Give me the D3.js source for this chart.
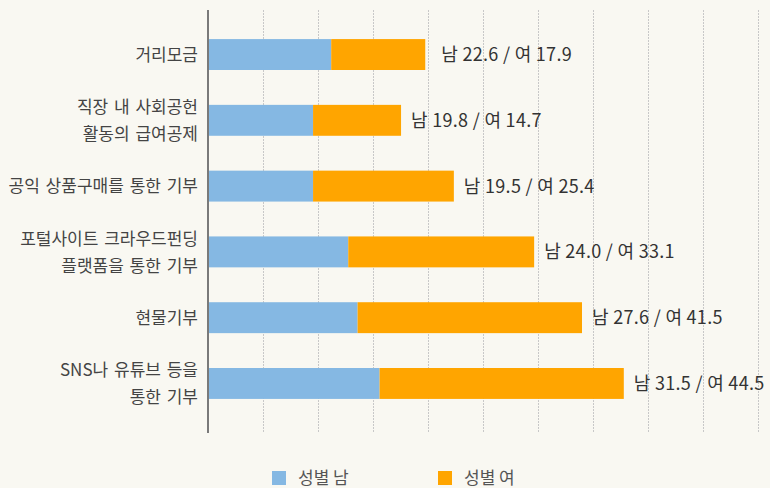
<!DOCTYPE html>
<html>
<head>
<meta charset="utf-8">
<script src="https://cdn.jsdelivr.net/npm/d3@7"></script>
<style>
  html, body { margin: 0; padding: 0; background: #f9f8f2; }
  svg { display: block; font-family: "Noto Sans CJK KR", "Noto Sans", sans-serif; }
</style>
</head>
<body>
<svg id="chart" width="770" height="488"></svg>
<script>
// categories (top to bottom), lines split for wrapping
const CATEGORIES = [
  ["거리모금"],
  ["직장 내 사회공헌", "활동의 급여공제"],
  ["공익 상품구매를 통한 기부"],
  ["포털사이트 크라우드펀딩", "플랫폼을 통한 기부"],
  ["현물기부"],
  ["SNS나 유튜브 등을", "통한 기부"]
];
// bar lengths as drawn
const MALE_BAR   = [22.4, 19.1, 19.1, 25.5, 27.2, 31.2];
const FEMALE_BAR = [17.1, 16.0, 25.6, 33.8, 40.8, 44.4];
// value labels as printed
const MALE_LABEL   = ["22.6", "19.8", "19.5", "24.0", "27.6", "31.5"];
const FEMALE_LABEL = ["17.9", "14.7", "25.4", "33.1", "41.5", "44.5"];
const SERIES = ["성별 남", "성별 여"];
const COLORS = ["#85b8e3", "#ffa500"];
const X_TICKS = [10, 20, 30, 40, 50, 60, 70, 80, 90, 100];

const svg = d3.select("#chart");
const PLOT = { left: 208, right: 758, top: 10, bottom: 433 };

const x = d3.scaleLinear().domain([0, 100]).range([PLOT.left, PLOT.right]);
const y = d3.scaleBand()
  .domain(d3.range(CATEGORIES.length))
  .range([PLOT.top - 2.5, PLOT.bottom - 2.5])
  .paddingInner(0.53)
  .paddingOuter(0.48);

//Dotted grid lines
svg.append("g")
  .selectAll("line")
  .data(X_TICKS)
  .join("line")
  .attr("x1", d => Math.round(x(d)) + 0.5)
  .attr("x2", d => Math.round(x(d)) + 0.5)
  .attr("y1", PLOT.top)
  .attr("y2", PLOT.bottom)
  .attr("stroke", "#c8c8c8")
  .attr("stroke-width", 1)
  .attr("stroke-dasharray", "2,1");

const rows = CATEGORIES.map((c, i) => ({
  i, lines: c, m: MALE_BAR[i], f: FEMALE_BAR[i],
  label: `남 ${MALE_LABEL[i]} / 여 ${FEMALE_LABEL[i]}`
}));

//Stacked bars
const bars = svg.append("g");
bars.selectAll(".male")
  .data(rows)
  .join("rect")
  .attr("class", "male")
  .attr("x", x(0))
  .attr("y", d => y(d.i))
  .attr("width", d => x(d.m) - x(0))
  .attr("height", y.bandwidth())
  .attr("fill", COLORS[0]);
bars.selectAll(".female")
  .data(rows)
  .join("rect")
  .attr("class", "female")
  .attr("x", d => x(d.m))
  .attr("y", d => y(d.i))
  .attr("width", d => x(d.m + d.f) - x(d.m))
  .attr("height", y.bandwidth())
  .attr("fill", COLORS[1]);

//Value labels
svg.append("g")
  .selectAll("text")
  .data(rows)
  .join("text")
  .attr("x", d => x(d.m + d.f) + (d.i === 0 ? 16 : 10))
  .attr("y", d => y(d.i) + y.bandwidth() / 2)
  .attr("dy", "0.36em")
  .attr("font-size", 18)
  .attr("letter-spacing", "0.3px")
  .attr("fill", "#333")
  .text(d => d.label);

//Category labels
const cat = svg.append("g")
  .selectAll("text")
  .data(rows)
  .join("text")
  .attr("x", 198)
  .attr("y", d => y(d.i) + y.bandwidth() / 2)
  .attr("text-anchor", "end")
  .attr("font-size", 17)
  .attr("word-spacing", "2px")
  .attr("fill", "#444");
cat.selectAll("tspan")
  .data(d => d.lines.map((t, k) => ({ t, k, n: d.lines.length })))
  .join("tspan")
  .attr("x", 198)
  .attr("dy", d => d.k === 0 ? (0.36 * 17 - (d.n - 1) * 13.5) + "px" : "27px")
  .text(d => d.t);

//Axis line
svg.append("line")
  .attr("x1", PLOT.left).attr("x2", PLOT.left)
  .attr("y1", PLOT.top).attr("y2", PLOT.bottom)
  .attr("stroke", "#7a7a7a")
  .attr("stroke-width", 2);

//Legend
const legend = svg.append("g")
  .selectAll("g")
  .data(SERIES)
  .join("g")
  .attr("transform", (d, i) => `translate(${272 + i * 166},471)`);
legend.append("rect")
  .attr("width", 14).attr("height", 14)
  .attr("fill", (d, i) => COLORS[i]);
legend.append("text")
  .attr("x", 26)
  .attr("y", 7)
  .attr("dy", "0.36em")
  .attr("font-size", 17)
  .attr("fill", "#555")
  .text(d => d);
</script>
</body>
</html>
